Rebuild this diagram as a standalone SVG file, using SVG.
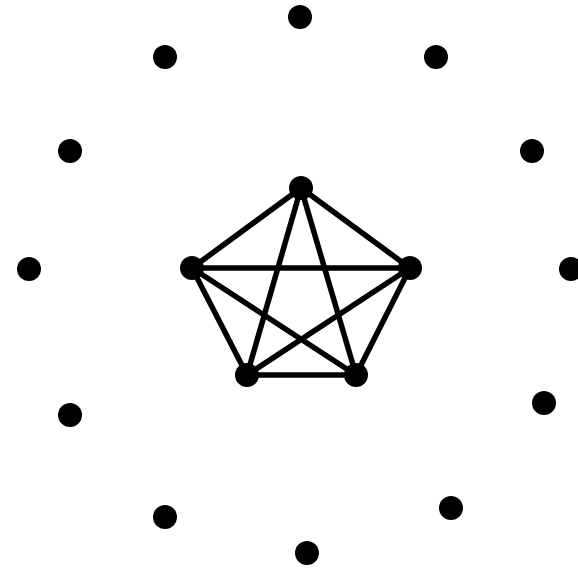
<svg xmlns="http://www.w3.org/2000/svg" width="578" height="568" viewBox="0 0 578 568">
<style>
.n{fill:#000}
.e{stroke:#000;stroke-width:5.5;stroke-linecap:round;fill:none}
</style>
<rect width="578" height="568" fill="#fff"/>
<g id="edges">
<line class="e" x1="301" y1="188" x2="192" y2="268"/>
<line class="e" x1="301" y1="188" x2="410" y2="268"/>
<line class="e" x1="301" y1="188" x2="247" y2="375"/>
<line class="e" x1="301" y1="188" x2="356" y2="375"/>
<line class="e" x1="192" y1="268" x2="410" y2="268"/>
<line class="e" x1="192" y1="268" x2="247" y2="375"/>
<line class="e" x1="192" y1="268" x2="356" y2="375"/>
<line class="e" x1="410" y1="268" x2="247" y2="375"/>
<line class="e" x1="410" y1="268" x2="356" y2="375"/>
<line class="e" x1="247" y1="375" x2="356" y2="375"/>
</g>
<g id="i1"><circle class="n" cx="301" cy="188" r="12"/></g>
<g id="i2"><circle class="n" cx="192" cy="268" r="12"/></g>
<g id="i3"><circle class="n" cx="410" cy="268" r="12"/></g>
<g id="i4"><circle class="n" cx="247" cy="375" r="12"/></g>
<g id="i5"><circle class="n" cx="356" cy="375" r="12"/></g>
<g id="o1"><circle class="n" cx="300" cy="17" r="12"/></g>
<g id="o2"><circle class="n" cx="165" cy="57" r="12"/></g>
<g id="o3"><circle class="n" cx="436" cy="57" r="12"/></g>
<g id="o4"><circle class="n" cx="70" cy="151" r="12"/></g>
<g id="o5"><circle class="n" cx="532" cy="151" r="12"/></g>
<g id="o6"><circle class="n" cx="29" cy="269" r="12"/></g>
<g id="o7"><circle class="n" cx="571" cy="269" r="12"/></g>
<g id="o8"><circle class="n" cx="70" cy="415" r="12"/></g>
<g id="o9"><circle class="n" cx="544" cy="403" r="12"/></g>
<g id="o10"><circle class="n" cx="165" cy="517" r="12"/></g>
<g id="o11"><circle class="n" cx="451" cy="508" r="12"/></g>
<g id="o12"><circle class="n" cx="307" cy="553" r="12"/></g>
</svg>
